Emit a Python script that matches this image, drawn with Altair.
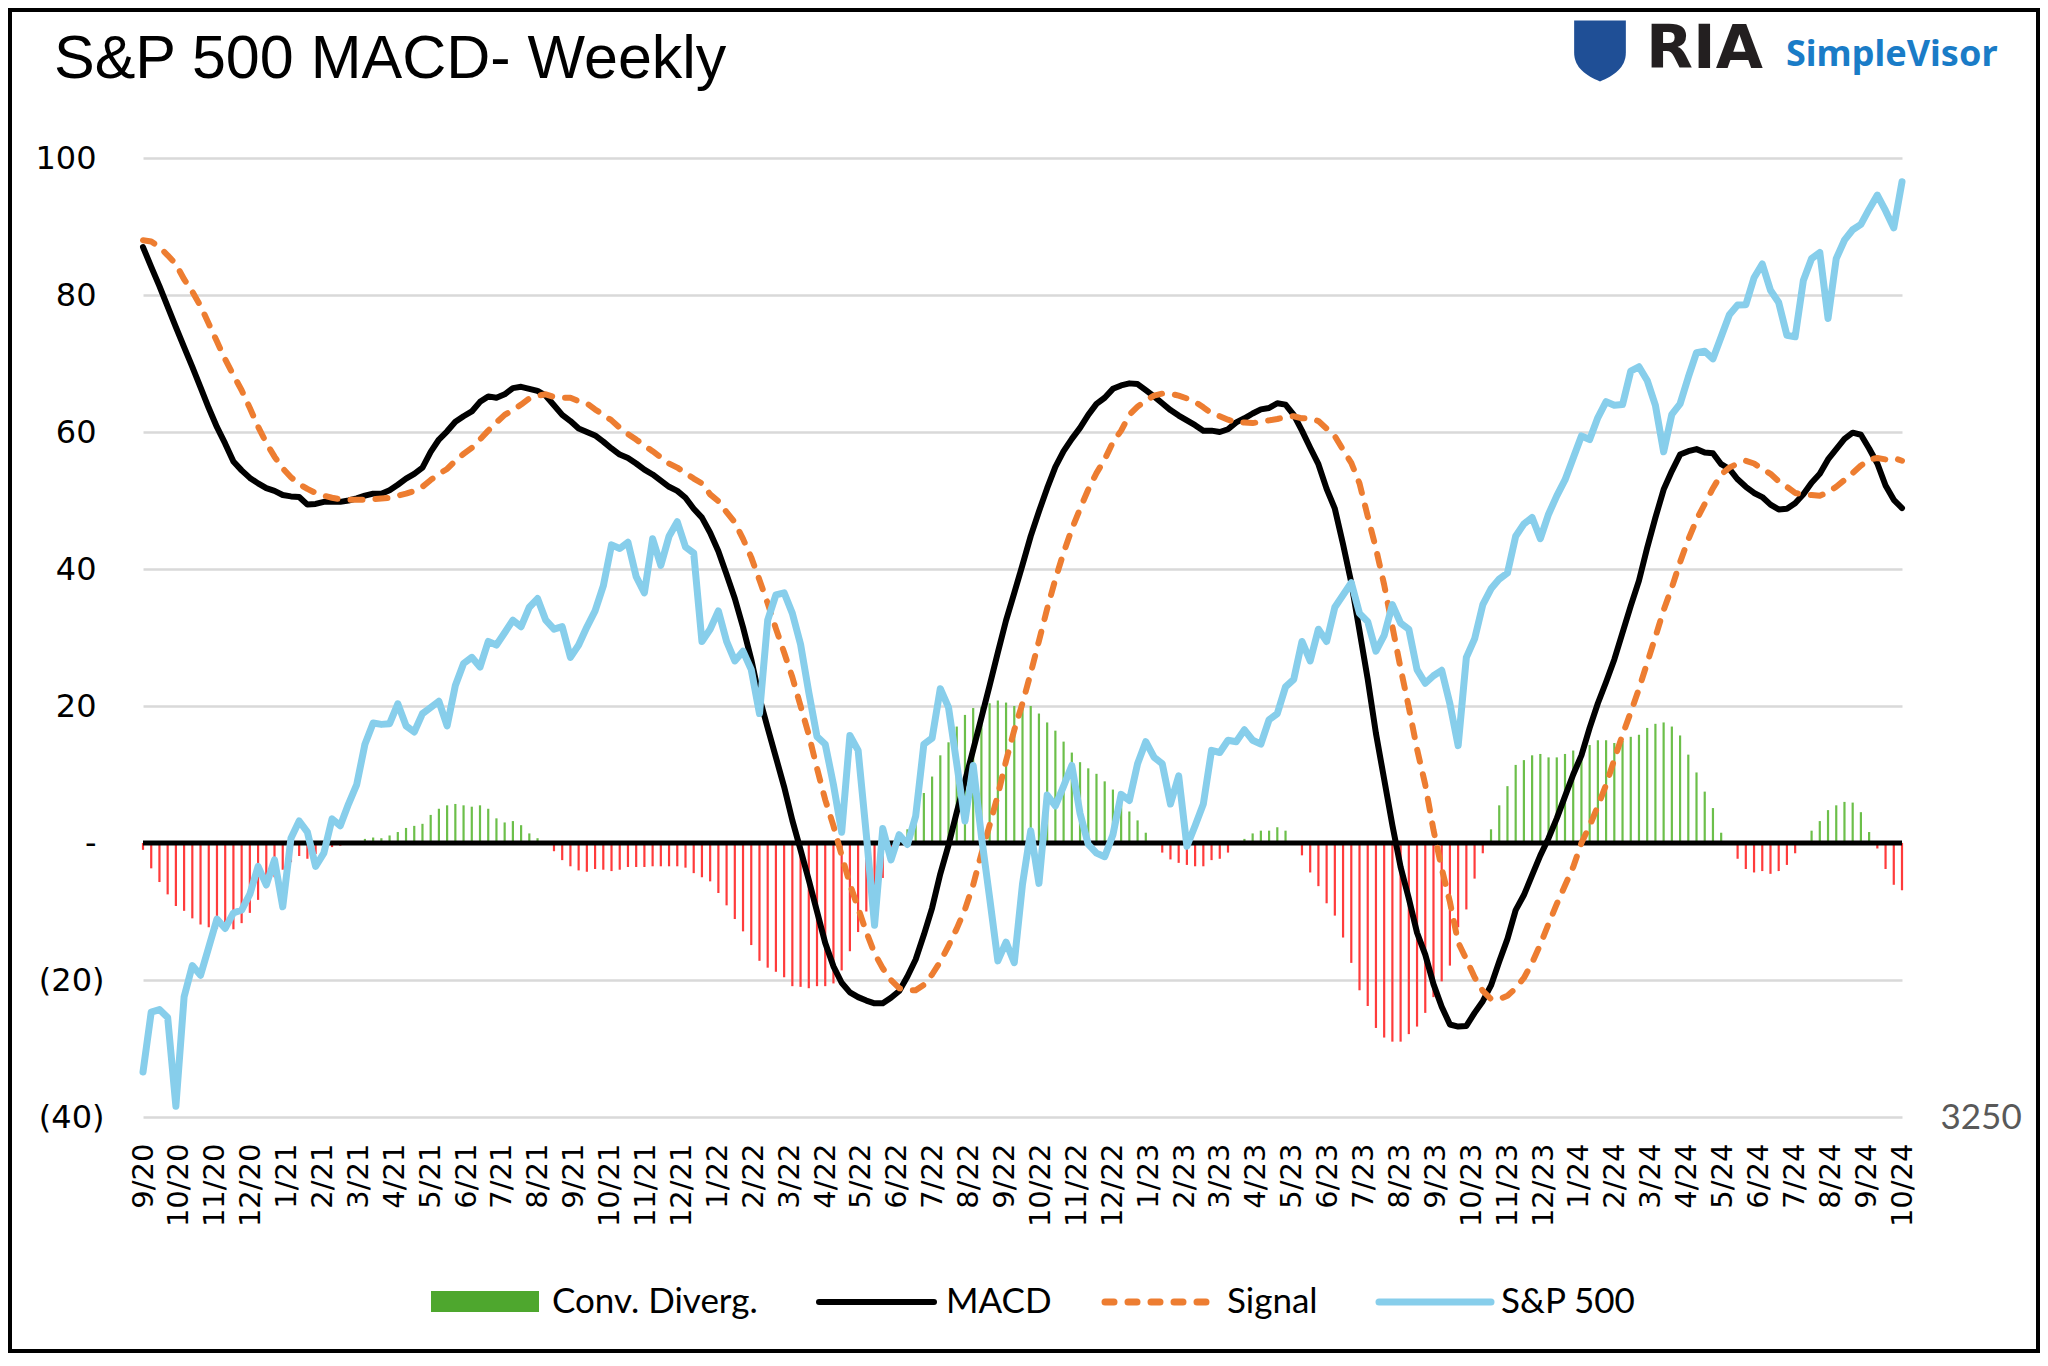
import json
import altair as alt
import pandas as pd

# ---------------- data (weekly, 215 points) ----------------
macd = [
    87.0, 84.1, 81.3, 78.3, 75.3, 72.4, 69.5, 66.5, 63.5, 60.7,
    58.3, 55.7, 54.4, 53.3, 52.5, 51.8, 51.4, 50.8, 50.6, 50.5,
    49.4, 49.5, 49.8, 49.8, 49.8, 50.0, 50.3, 50.7, 51.0, 51.0,
    51.5, 52.3, 53.2, 53.9, 54.8, 57.1, 58.9, 60.1, 61.5, 62.3,
    63.0, 64.4, 65.2, 65.0, 65.5, 66.4, 66.6, 66.3, 66.0, 65.3,
    63.9, 62.5, 61.6, 60.5, 60.0, 59.5, 58.6, 57.6, 56.7, 56.2,
    55.4, 54.5, 53.8, 52.9, 52.0, 51.4, 50.4, 48.8, 47.5, 45.3,
    42.6, 39.2, 35.7, 31.5, 26.8, 21.2, 16.8, 12.5, 8.2, 3.3,
    -1.0, -5.4, -10.0, -14.6, -18.0, -20.4, -21.8, -22.5, -23.0, -23.4,
    -23.4, -22.6, -21.6, -19.5, -17.0, -13.4, -9.5, -4.5, -0.3, 4.5,
    9.0, 13.6, 18.3, 23.0, 27.8, 32.5, 36.5, 40.6, 44.8, 48.4,
    51.8, 54.9, 57.2, 59.0, 60.6, 62.5, 64.1, 65.0, 66.3, 66.8,
    67.1, 67.0, 66.1, 65.2, 64.2, 63.2, 62.4, 61.7, 61.0, 60.2,
    60.2, 60.0, 60.4, 61.4, 62.0, 62.7, 63.3, 63.5, 64.2, 64.0,
    62.5, 60.2, 57.7, 55.3, 51.7, 48.8, 43.6, 38.0, 31.0, 23.9,
    16.0, 9.3, 2.6, -3.5, -8.1, -13.1, -16.3, -20.6, -23.9, -26.5,
    -26.8, -26.7, -24.8, -23.1, -20.8, -17.3, -14.0, -9.8, -7.6, -4.7,
    -1.8, 0.7, 3.6, 6.8, 10.0, 12.8, 16.8, 20.4, 23.5, 26.8,
    30.7, 34.6, 38.3, 43.1, 47.5, 51.6, 54.3, 56.7, 57.2, 57.5,
    57.0, 56.9, 55.3, 54.6, 53.1, 52.0, 51.1, 50.5, 49.4, 48.7,
    48.8, 49.6, 50.9, 52.6, 53.9, 56.0, 57.5, 59.0, 59.9, 59.6,
    57.6, 55.4, 52.2, 50.1, 48.9,
]

signal = [
    88.0, 87.8, 87.0, 85.8, 84.5, 82.3, 80.5, 78.4, 75.8, 73.2,
    70.6, 68.3, 66.1, 63.5, 60.8, 58.4, 56.4, 54.7, 53.4, 52.4,
    51.7, 51.1, 50.7, 50.4, 50.2, 50.1, 50.1, 50.1, 50.2, 50.3,
    50.4, 50.7, 51.0, 51.4, 52.0, 53.0, 53.9, 54.6, 55.8, 56.8,
    57.7, 58.9, 60.2, 61.4, 62.5, 63.2, 64.0, 64.9, 65.3, 65.5,
    65.1, 65.0, 65.0, 64.5, 64.2, 63.3, 62.5, 61.7, 60.6, 59.7,
    58.9, 58.0, 57.2, 56.3, 55.4, 54.8, 54.0, 53.2, 52.5, 50.9,
    49.9, 48.3, 46.8, 44.4, 41.7, 38.4, 35.0, 31.3, 27.8, 24.2,
    20.0, 15.8, 10.9, 6.3, 2.5, -1.8, -6.0, -9.5, -13.0, -16.1,
    -18.3, -20.0, -21.2, -21.5, -21.5, -20.7, -19.2, -17.3, -15.0, -12.5,
    -9.7, -6.1, -1.6, 2.6, 7.0, 12.0, 16.5, 20.4, 24.8, 29.5,
    34.2, 38.5, 42.4, 45.8, 48.8, 51.6, 54.0, 56.0, 58.5, 60.2,
    62.5, 63.7, 64.6, 65.3, 65.6, 65.6, 65.3, 64.9, 64.4, 63.6,
    62.7, 62.3, 61.8, 61.4, 61.4, 61.3, 61.5, 61.7, 61.9, 62.2,
    62.3, 62.0, 62.0, 61.6, 60.5, 59.4, 57.4, 55.5, 52.5, 47.7,
    43.0, 37.7, 31.6, 25.5, 19.8, 13.7, 8.5, 1.9, -3.7, -8.6,
    -14.5, -17.0, -19.6, -21.6, -22.8, -22.8, -22.3, -21.2, -19.7, -17.5,
    -14.8, -11.8, -8.9, -6.2, -3.5, 0.0, 2.5, 5.4, 8.5, 12.2,
    15.8, 19.1, 22.5, 26.3, 30.1, 34.0, 37.3, 41.0, 44.3, 47.2,
    49.5, 51.8, 53.8, 54.8, 55.4, 55.8, 55.4, 54.6, 53.9, 52.8,
    52.0, 51.1, 50.9, 50.8, 50.7, 51.2, 52.0, 53.0, 54.0, 55.1,
    56.0, 56.2, 56.0, 56.2, 55.8,
]

sp500 = [
    3375, 3541, 3548, 3526, 3280, 3583, 3670, 3643, 3721, 3799,
    3773, 3816, 3824, 3868, 3945, 3894, 3963, 3833, 4023, 4071,
    4040, 3945, 3982, 4077, 4058, 4118, 4172, 4284, 4343, 4339,
    4341, 4396, 4335, 4318, 4369, 4386, 4403, 4335, 4447, 4508,
    4525, 4498, 4569, 4559, 4593, 4628, 4610, 4664, 4688, 4628,
    4603, 4610, 4525, 4559, 4609, 4654, 4723, 4837, 4827, 4844,
    4749, 4704, 4854, 4780, 4861, 4901, 4831, 4814, 4569, 4603,
    4654, 4569, 4515, 4542, 4491, 4369, 4628, 4698, 4704, 4647,
    4561, 4428, 4305, 4284, 4172, 4040, 4308, 4267, 4033, 3782,
    4050, 3963, 4033, 4006, 4084, 4284, 4301, 4438, 4386, 4230,
    4071, 4225, 4029, 3858, 3683, 3735, 3678, 3896, 4044, 3898,
    4143, 4113, 4168, 4225, 4092, 4006, 3982, 3972, 4033, 4145,
    4128, 4230, 4291, 4248, 4230, 4118, 4196, 4001, 4058, 4118,
    4267, 4261, 4295, 4291, 4324, 4295, 4284, 4352, 4369, 4443,
    4464, 4569, 4515, 4603, 4569, 4664, 4698, 4732, 4647, 4624,
    4542, 4586, 4671, 4620, 4603, 4491, 4453, 4474, 4489, 4396,
    4280, 4525, 4576, 4671, 4715, 4742, 4759, 4861, 4895, 4913,
    4854, 4922, 4973, 5017, 5078, 5139, 5129, 5190, 5234, 5224,
    5226, 5319, 5331, 5293, 5224, 5095, 5199, 5228, 5302, 5370,
    5374, 5353, 5414, 5475, 5502, 5503, 5578, 5616, 5543, 5509,
    5418, 5414, 5570, 5631, 5648, 5465, 5631, 5682, 5711, 5726,
    5768, 5807, 5764, 5716, 5844,
]

# month tick labels 9/20 ... 10/24
month_labels = [f"{(8 + k) % 12 + 1}/{20 + (8 + k) // 12}" for k in range(50)]
series_names = ["Conv. Diverg.", "MACD", "Signal", "S&P 500"]
title_text = "S&P 500 MACD- Weekly"

# ---------------- table ----------------
n = len(macd)
df = pd.DataFrame({"week": list(range(n)), "macd": macd, "signal": signal, "sp500": sp500})
df["hist"] = df["macd"] - df["signal"]
df["sign"] = ["pos" if h >= 0 else "neg" for h in df["hist"]]

W, H = 1759, 959
x_max = n - 1
tick_pos = [k * x_max / (len(month_labels) - 1) for k in range(len(month_labels))]
label_expr = json.dumps(month_labels) + f"[round(datum.value*{len(month_labels) - 1}/{x_max})]"

x_enc = alt.X(
    "week:Q",
    scale=alt.Scale(domain=[0, x_max], nice=False, zero=False),
    axis=alt.Axis(values=tick_pos, labelExpr=label_expr, labelAngle=270,
                  labelFont="DejaVu Sans", labelFontSize=29, labelColor="#000000",
                  labelPadding=26, labelOverlap=False, labelFlush=False,
                  domain=False, ticks=False, grid=False, title=None),
)

y_scale = alt.Scale(domain=[-40, 100], nice=False, zero=False)
y_axis = alt.Axis(
    values=list(range(-40, 101, 20)),
    labelExpr="datum.value > 0 ? '' + datum.value : (datum.value < 0 ? '(' + abs(datum.value) + ')' : '-')",
    labelPadding={"condition": {"test": "datum.value >= 0", "value": 47}, "value": 39},
    grid=True, gridColor="#d9d9d9", gridWidth=2.5, domain=False, ticks=False,
    labelFont="DejaVu Sans", labelFontSize=32, labelColor="#000000", title=None,
)

one = pd.DataFrame({"zero": [0]})

hist = alt.Chart(df).mark_rule(strokeWidth=2.2).encode(
    x=x_enc,
    y=alt.Y("hist:Q", scale=y_scale, axis=y_axis),
    y2=alt.datum(0),
    color=alt.Color("sign:N", scale=alt.Scale(domain=["pos", "neg"], range=["#6cbf4a", "#ff3b3b"]), legend=None),
)
zero_line = alt.Chart(one).mark_rule(color="#000000", strokeWidth=5).encode(
    y=alt.Y("zero:Q", scale=y_scale, axis=y_axis)
)
macd_line = alt.Chart(df).mark_line(color="#000000", strokeWidth=6, strokeJoin="round", strokeCap="round").encode(
    x=x_enc, y=alt.Y("macd:Q", scale=y_scale, axis=y_axis)
)
signal_line = alt.Chart(df).mark_line(color="#ed7d31", strokeWidth=6, strokeDash=[12, 13], strokeCap="round",
                                      strokeJoin="round").encode(
    x=x_enc, y=alt.Y("signal:Q", scale=y_scale, axis=y_axis)
)
primary = alt.layer(hist, zero_line, macd_line, signal_line)

sp_line = alt.Chart(df).mark_line(color="#87ceeb", strokeWidth=7, strokeJoin="round", strokeCap="round").encode(
    x=x_enc,
    y=alt.Y("sp500:Q", scale=alt.Scale(domain=[3250, 5910], nice=False, zero=False),
            axis=alt.Axis(orient="right", values=[3250], format="d", grid=False, domain=False, ticks=False,
                          labelFont="Lato", labelFontSize=35, labelColor="#595959", labelPadding=38,
                          title=None)),
)

# ---------------- annotations: title, logo, legend, border ----------------
single = alt.Data(values=[{"k": 1}])

def txt(text, x, y, size, font, color="#000000", weight="normal", baseline="alphabetic"):
    return alt.Chart(single).mark_text(text=text, align="left", baseline=baseline, font=font,
                                       fontSize=size, fontWeight=weight, color=color).encode(
        x=alt.value(x), y=alt.value(y))

title = txt(title_text, -89, -80, 61, "Liberation Sans")

shield = alt.Chart(single).mark_point(
    shape="M-0.85,-1 L0.85,-1 L0.85,0.05 C0.85,0.55 0.45,0.82 0,1 C-0.45,0.82 -0.85,0.55 -0.85,0.05 Z",
    filled=True, color="#1f4f96", opacity=1, size=3700,
).encode(x=alt.value(1457), y=alt.value(-107))
ria = txt("RIA", 1503, -90, 61, "DejaVu Sans", color="#231f20", weight="bold")
simplevisor = txt("SimpleVisor", 1643, -92, 36, "Noto Sans", color="#1a7cc7", weight="bold")

leg_y = 1144
leg_rect = alt.Chart(single).mark_rect(color="#4ea72e").encode(
    x=alt.value(288), x2=alt.value(396), y=alt.value(leg_y - 11), y2=alt.value(leg_y + 10))
leg_macd = alt.Chart(single).mark_rule(color="#000000", strokeWidth=6, strokeCap="round").encode(
    x=alt.value(676), x2=alt.value(791), y=alt.value(leg_y))
leg_signal = alt.Chart(single).mark_rule(color="#ed7d31", strokeWidth=7, strokeCap="round",
                                         strokeDash=[9, 14]).encode(
    x=alt.value(962), x2=alt.value(1070), y=alt.value(leg_y))
leg_sp = alt.Chart(single).mark_rule(color="#87ceeb", strokeWidth=7, strokeCap="round").encode(
    x=alt.value(1236), x2=alt.value(1348), y=alt.value(leg_y))
leg_t1 = txt(series_names[0], 409, leg_y, 35, "Lato", baseline="middle")
leg_t2 = txt(series_names[1], 803, leg_y, 35, "Lato", baseline="middle")
leg_t3 = txt(series_names[2], 1084, leg_y, 35, "Lato", baseline="middle")
leg_t4 = txt(series_names[3], 1358, leg_y, 35, "Lato", baseline="middle")

border = alt.Chart(single).mark_rect(filled=False, stroke="#000000", strokeWidth=4).encode(
    x=alt.value(-133), x2=alt.value(W + 136), y=alt.value(-148), y2=alt.value(H + 234))

chart = alt.layer(
    primary, sp_line,
    title, shield, ria, simplevisor,
    leg_rect, leg_macd, leg_signal, leg_sp, leg_t1, leg_t2, leg_t3, leg_t4,
    border,
).resolve_scale(y="independent").properties(
    width=W, height=H,
    padding={"left": 135, "top": 150, "right": 138, "bottom": 236},
    autosize=alt.AutoSizeParams(type="none"),
).configure_view(stroke="transparent")

chart.save("out.html", embed_options={"renderer": "svg", "actions": False})
